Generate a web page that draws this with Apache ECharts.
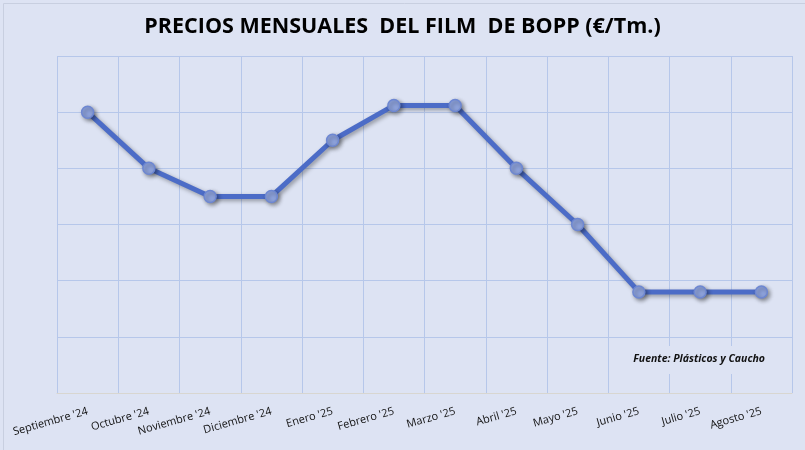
<!DOCTYPE html>
<html>
<head>
<meta charset="utf-8">
<script src="https://cdn.jsdelivr.net/npm/echarts@6/dist/echarts.min.js"></script>
<style>
html,body{margin:0;padding:0;background:#dde3f3;}
#c{width:805px;height:450px;}
</style>
</head>
<body>
<div id="c"></div>
<script>
const months = ["Septiembre '24","Octubre '24","Noviembre '24","Diciembre '24","Enero '25","Febrero '25","Marzo '25","Abril '25","Mayo '25","Junio '25","Julio '25","Agosto '25"];
const prices = [1550, 1500, 1475, 1475, 1525, 1556, 1556, 1500, 1450, 1390, 1390, 1390];
const yMin = 1300, yMax = 1600, yStep = 50;

const chart = echarts.init(document.getElementById('c'));
chart.setOption({
  backgroundColor: '#dde3f3',
  animation: false,
  title: {
    text: 'PRECIOS MENSUALES  DEL FILM  DE BOPP (€/Tm.)',
    left: 'center', top: 11,
    textStyle: {fontFamily: 'Open Sans', fontWeight: 'bold', fontSize: 21.5, color: '#000'}
  },
  graphic: [{
    type: 'rect', left: 630, top: 346, shape: {width: 140, height: 28},
    style: {fill: '#dde3f3'}, silent: true, z: 10
  }, {
    type: 'text', right: 40, top: 354,
    style: {text: 'Fuente: Plásticos y Caucho', font: 'italic bold 10.5px "Open Sans"', fill: '#111'}, z: 11
  }, {
    type: 'rect', left: 1, top: 1, shape: {width: 803, height: 447},
    style: {fill: 'none', stroke: '#c8cfe0', lineWidth: 1}, silent: true
  }],
  grid: {left: 57, right: 13, top: 56, bottom: 57},
  xAxis: {
    type: 'category', data: months, boundaryGap: true,
    axisLine: {show: true, lineStyle: {color: '#d8d6d0', width: 1}},
    axisTick: {show: false},
    splitLine: {show: true, lineStyle: {color: '#b6c7ea', width: 1}},
    axisLabel: {rotate: 16, interval: 0, fontFamily: 'Open Sans', fontSize: 11, color: '#111', margin: 18}
  },
  yAxis: {
    type: 'value', min: yMin, max: yMax, interval: yStep,
    axisLabel: {show: false}, axisLine: {show: false}, axisTick: {show: false},
    splitLine: {show: true, lineStyle: {color: '#b6c7ea', width: 1}}
  },
  series: [{
    type: 'line', data: prices, z: 20,
    symbol: 'circle', symbolSize: 12,
    lineStyle: {color: '#4c6cc7', width: 5, shadowColor: 'rgba(0,0,0,0.35)', shadowBlur: 4, shadowOffsetX: 2, shadowOffsetY: 2},
    itemStyle: {color: '#8ea3dd', borderColor: '#6d87d2', borderWidth: 1.5, shadowColor: 'rgba(0,0,0,0.4)', shadowBlur: 4, shadowOffsetX: 2, shadowOffsetY: 2}
  }]
});
</script>
</body>
</html>
